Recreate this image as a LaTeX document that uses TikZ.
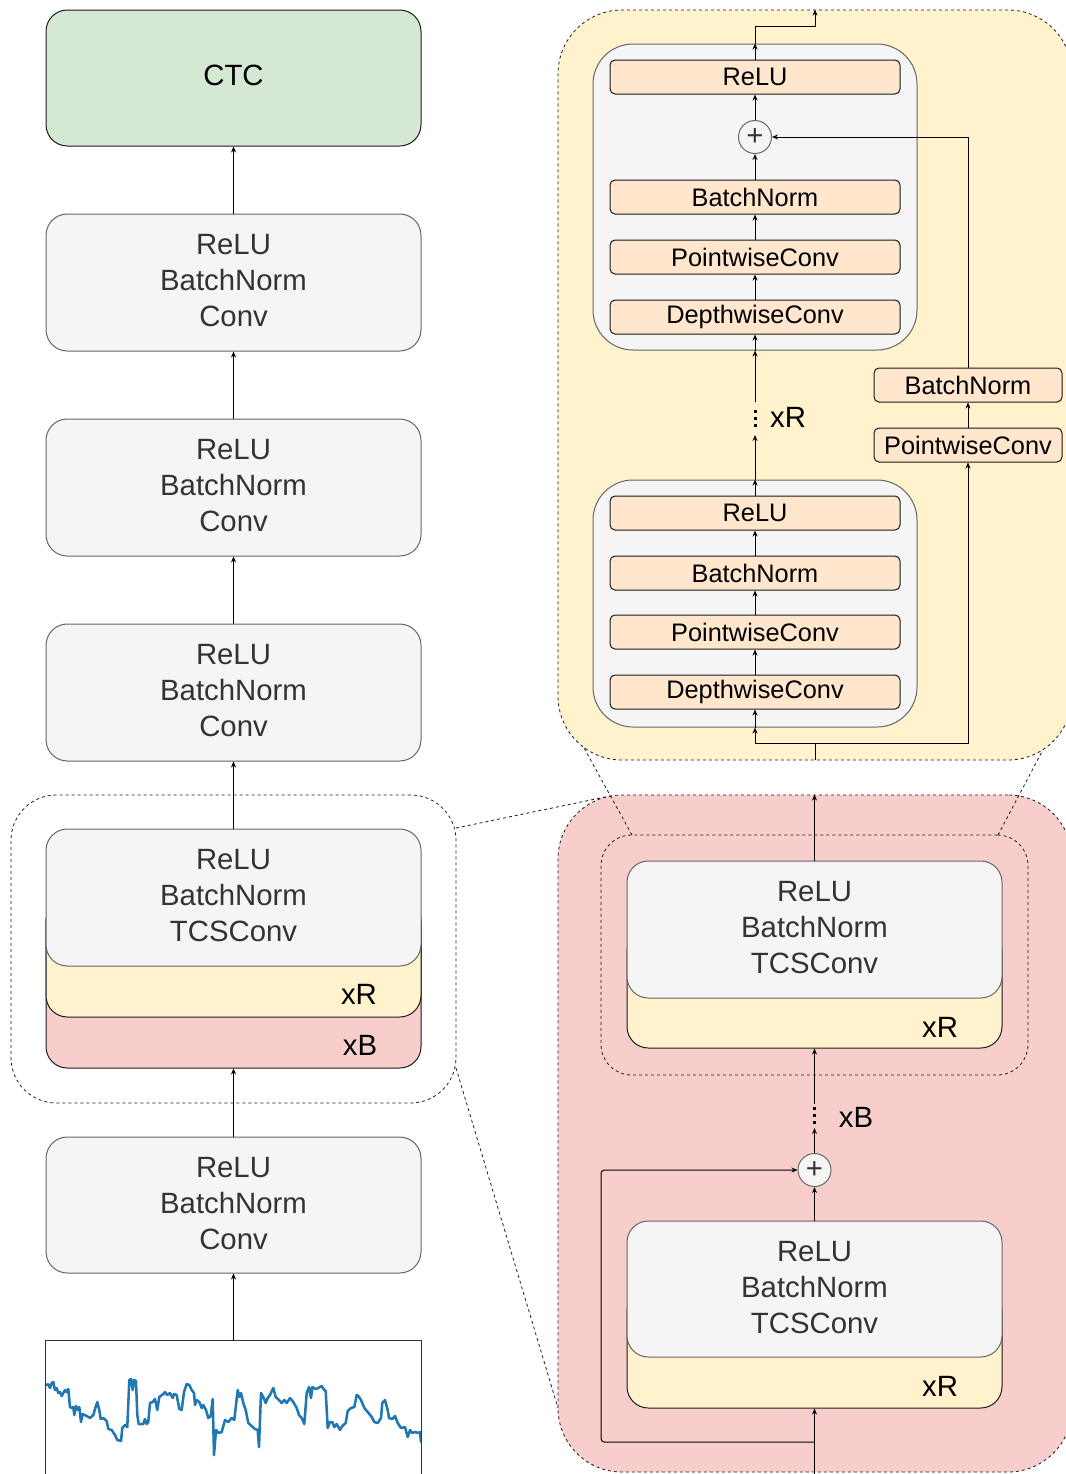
\documentclass[tikz,border=0pt]{standalone}
\usepackage{fontspec}
\setmainfont{Liberation Sans}
\usetikzlibrary{arrows.meta}

\definecolor{gfill}{HTML}{F5F5F5}
\definecolor{gline}{HTML}{666666}
\definecolor{gtext}{HTML}{333333}
\definecolor{cfill}{HTML}{D5E8D4}
\definecolor{yfill}{HTML}{FFF2CC}
\definecolor{rfill}{HTML}{F8CECC}
\definecolor{ofill}{HTML}{FFE6CC}
\definecolor{dark}{HTML}{1A1A1A}
\definecolor{wblue}{HTML}{1F77B4}

\tikzset{
  base/.style={inner sep=0pt,line width=0.75pt},
  wide/.style={minimum width=281.25pt},
  graybox/.style={base,wide,minimum height=102.75pt,rounded corners=16pt,fill=gfill,draw=gline,
    text=gtext,align=center,text depth=3pt,font=\fontsize{22}{27}\selectfont},
  ctcbox/.style={graybox,fill=cfill,draw=dark,text=black,text depth=4.5pt},
  yellowbox/.style={base,wide,rounded corners=16pt,fill=yfill,draw=dark},
  redbox/.style={base,wide,rounded corners=16pt,fill=rfill,draw=dark},
  opbox/.style={base,minimum width=217.5pt,minimum height=25.5pt,rounded corners=3.75pt,
    fill=ofill,draw=dark,font=\fontsize{19}{22}\selectfont},
  sidebox/.style={opbox,minimum width=141pt},
  blockbox/.style={base,minimum width=243pt,rounded corners=30pt,fill=gfill,draw=gline},
  sumnode/.style={base,circle,minimum size=24.75pt,fill=gfill,draw=gline,
    text=gtext,font=\fontsize{22}{22}\selectfont},
  grp/.style={line width=0.6pt,draw=dark,dash pattern=on 2.25pt off 2.25pt},
  zoomline/.style={line width=0.6pt,draw=dark,dash pattern=on 2.25pt off 2.25pt},
  arr/.style={-{Stealth[length=4.5pt,width=3.75pt]},line width=0.75pt,draw=black},
  wire/.style={line width=0.75pt,draw=black},
  dotline/.style={line width=2.25pt,dash pattern=on 2.25pt off 3pt,draw=black},
  lbl/.style={inner sep=0pt,font=\fontsize{22}{22}\selectfont}
}

\begin{document}
\begin{tikzpicture}[x=0.75pt,y=-0.75pt]
\useasboundingbox (0,0) rectangle (1065,1474);

% ---- dashed group around the repeated block (left column)
\node[base,grp,minimum width=333.75pt,minimum height=231pt,rounded corners=34pt] (grp) at (233.5,949) {};

% ---- expanded block region (red) on the right
\node[base,grp,fill=rfill,minimum width=385.5pt,minimum height=507.75pt,rounded corners=48pt] (rreg) at (815,1133.5) {};

% ---- zoom guide lines
\draw[zoomline] (456,828) -- (610,796);
\draw[zoomline] (456,1068) -- (558,1408);
\draw[zoomline] (632,835) -- (568.6,720);
\draw[zoomline] (998,835) -- (1058.6,720);

% ---- expanded sub-block region (yellow)
\node[base,grp,fill=yfill,minimum width=385.5pt,minimum height=562.5pt,rounded corners=48pt] (yreg) at (815,385) {};

% ================= left column =================
\node[ctcbox,minimum height=102pt] (ctc) at (233.5,78) {CTC};
\node[graybox] (c1) at (233.5,282.5) {ReLU\\BatchNorm\\Conv};
\node[graybox] (c2) at (233.5,487.5) {ReLU\\BatchNorm\\Conv};
\node[graybox] (c3) at (233.5,692.5) {ReLU\\BatchNorm\\Conv};

\node[redbox,minimum height=126pt] (sred) at (233.5,984) {};
\node[yellowbox,minimum height=87.75pt] (syel) at (233.5,958.5) {};
\node[graybox] (sgray) at (233.5,897.5) {ReLU\\BatchNorm\\TCSConv};
\node[lbl] (sxr) at (359,994) {xR};
\node[lbl] (sxb) at (360,1045) {xB};

\node[graybox,minimum height=102pt] (c5) at (233.5,1205) {ReLU\\BatchNorm\\Conv};

% input waveform panel
\node[base,wide,minimum height=105pt] (wave) at (233.5,1411) {};
\draw[line width=0.75pt,draw=gtext] (wave.south west) -- (wave.north west)
  -- (wave.north east) -- (wave.south east);
\begin{scope}
\clip (46,1341) rectangle (421,1474);
\draw[wblue,line width=1.9pt,line join=round,line cap=round] plot coordinates {
(46,1385) (48.3,1384.3) (50,1388) (51.7,1383) (53.3,1382) (55,1390) (56.7,1388)
(58.3,1393) (60,1392) (61.7,1396) (63.3,1393) (65,1390) (66.7,1392) (68.3,1389)
(70,1407) (71.7,1408) (73.3,1407) (74.3,1415) (76,1406) (77.7,1410) (79.3,1407)
(81,1422) (82.7,1414) (86.7,1416) (90,1418) (93.3,1415) (95,1409) (97.3,1402)
(99.3,1410) (100.7,1419) (103.3,1418) (106.7,1421) (108.3,1429) (111.7,1430)
(115,1435) (117.3,1440) (121,1441) (122.3,1428) (125,1425) (127.3,1427)
(129.3,1380) (131,1379) (132.7,1390) (134,1380) (136,1381) (137.3,1415)
(138.7,1424) (143.3,1424) (145,1419) (146.7,1424) (148.3,1422) (150,1403)
(152.7,1402) (155,1399) (157.3,1410) (159.3,1397) (163.3,1394) (165,1392)
(167.3,1395) (170,1393) (172.7,1398) (174,1394) (176.7,1395) (179.3,1409)
(181.7,1410) (184,1392) (186.7,1384) (189.3,1385) (191.7,1390) (194,1393)
(195,1405) (196.7,1400) (199.3,1402) (201.7,1408) (203.3,1405) (206,1410)
(208.3,1418) (210.7,1416) (212.7,1399) (214,1455) (216,1430) (218.3,1433)
(221.7,1432) (225,1420) (228.3,1422) (231.7,1418) (234.3,1420) (237.7,1390)
(239.3,1397) (241,1393) (243.3,1403) (245.7,1410) (248.3,1423) (251.7,1426)
(255,1429) (257.7,1430) (259,1447) (261,1393) (263.3,1397) (265.7,1403)
(267.7,1398) (270,1395) (273.3,1388) (275.7,1397) (279,1400) (281.7,1403)
(284.3,1400) (286.7,1403) (290,1398) (293.3,1402) (296.7,1408) (299,1415)
(301.7,1418) (304.3,1424) (306.7,1393) (309,1387) (311,1398) (312.3,1387)
(315.7,1389) (318.3,1388) (321.7,1386) (324.3,1390) (325.7,1391) (327.7,1428)
(330,1422) (332.3,1422) (334.3,1427) (336.7,1424) (340,1430) (342.3,1426)
(345.7,1423) (347.7,1411) (351,1408) (354.3,1407) (356.7,1395) (358.3,1396)
(361,1400) (364.3,1408) (367.7,1412) (371.7,1417) (374.3,1422) (377.7,1423)
(381,1418) (382.3,1403) (385,1400) (387.7,1410) (389,1418) (392.3,1419)
(395,1416) (397.7,1423) (401,1428) (405,1427) (407.7,1437) (410,1430)
(412.3,1433) (415,1432) (418.3,1433) (420,1432) (421,1442)};
\end{scope}

% left column connectors
\draw[arr] (wave.north) -- (c5.south);
\draw[arr] (c5.north) -- (sred.south);
\draw[arr] (sgray.north) -- (c3.south);
\draw[arr] (c3.north) -- (c2.south);
\draw[arr] (c2.north) -- (c1.south);
\draw[arr] (c1.north) -- (ctc.south);

% ================= red region: B repeated blocks =================
\node[base,grp,minimum width=320.25pt,minimum height=180pt,rounded corners=23pt] (rgrp) at (814.5,955) {};

\node[yellowbox,minimum height=88.5pt] (uy) at (814.5,989) {};
\node[graybox] (ug) at (814.5,929.5) {ReLU\\BatchNorm\\TCSConv};
\node[lbl] (uxr) at (940,1027) {xR};

\node[yellowbox,minimum height=88.5pt] (ly) at (814.5,1349) {};
\node[graybox,minimum height=102pt] (lg) at (814.5,1289) {ReLU\\BatchNorm\\TCSConv};
\node[lbl] (lxr) at (940,1386) {xR};

\node[sumnode] (p2) at (814.5,1170) {+};
\node[lbl] (xb) at (856,1117) {xB};

\coordinate (rin) at (814.5,1474);
\coordinate (rsplit) at (814.5,1442);
\coordinate (rskip) at (601,1442);
\coordinate (rdotlo) at (814.5,1128);
\coordinate (rdothi) at (814.5,1104);

\draw[arr] (rin) -- (ly.south);
\draw[arr,rounded corners=2.5pt] (rsplit) -- (rskip) |- (p2.west);
\draw[arr] (lg.north) -- (p2.south);
\draw[arr] (p2.north) -- (rdotlo);
\draw[dotline] (814.5,1107) -- (814.5,1125);
\draw[arr] (rdothi) -- (uy.south);
\draw[arr] (ug.north) -- (ug.north |- rreg.north);

% ================= yellow region: R repeated sub-blocks =================
\node[blockbox,minimum height=229.5pt] (ub) at (755,197) {};
\node[opbox] (r1) at (755,77) {ReLU};
\node[sumnode] (p1) at (755,137) {+};
\node[opbox] (b1) at (755,197) {BatchNorm};
\node[opbox] (pw1) at (755,257) {PointwiseConv};
\node[opbox] (dw1) at (755,317) {DepthwiseConv};

\node[blockbox,minimum height=185.25pt] (lb) at (755,603.5) {};
\node[opbox] (r2) at (755,513) {ReLU};
\node[opbox] (b2) at (755,573) {BatchNorm};
\node[opbox] (pw2) at (755,632) {PointwiseConv};
\node[opbox] (dw2) at (755,692) {DepthwiseConv};

\node[sidebox] (bn3) at (968,385) {BatchNorm};
\node[sidebox] (pw3) at (968,445) {PointwiseConv};

\node[lbl] (xr) at (788,417) {xR};

\coordinate (ytop) at (755,26);
\coordinate (ysplit) at (815,743);
\coordinate (ydotlo) at (755,435);
\coordinate (ydothi) at (755,402);

% residual path out of the top sub-block
\draw[arr] (r1.north) -- (ub.north);
\draw[arr] (ub.north) -- (ytop) -| (yreg.north);
\draw[arr] (p1.north) -- (r1.south);
\draw[arr] (b1.north) -- (p1.south);
\draw[arr] (pw1.north) -- (b1.south);
\draw[arr] (dw1.north) -- (pw1.south);
\draw[arr] (ub.south) -- (dw1.south);
\draw[arr] (ydothi) -- (ub.south);
\draw[dotline] (755,410) -- (755,428);
\draw[arr] (lb.north) -- (ydotlo);
\draw[arr] (r2.north) -- (lb.north);
\draw[arr] (b2.north) -- (r2.south);
\draw[arr] (pw2.north) -- (b2.south);
\draw[arr] (dw2.north) -- (pw2.south);
\draw[arr] (lb.south) -- (dw2.south);

% input split into main path and shortcut
\draw[wire] (yreg.south) -- (ysplit);
\draw[arr] (ysplit) -| (lb.south);
\draw[arr] (ysplit) -| (pw3.south);
\draw[arr] (pw3.north) -- (bn3.south);
\draw[arr] (bn3.north) |- (p1.east);

\end{tikzpicture}
\end{document}
